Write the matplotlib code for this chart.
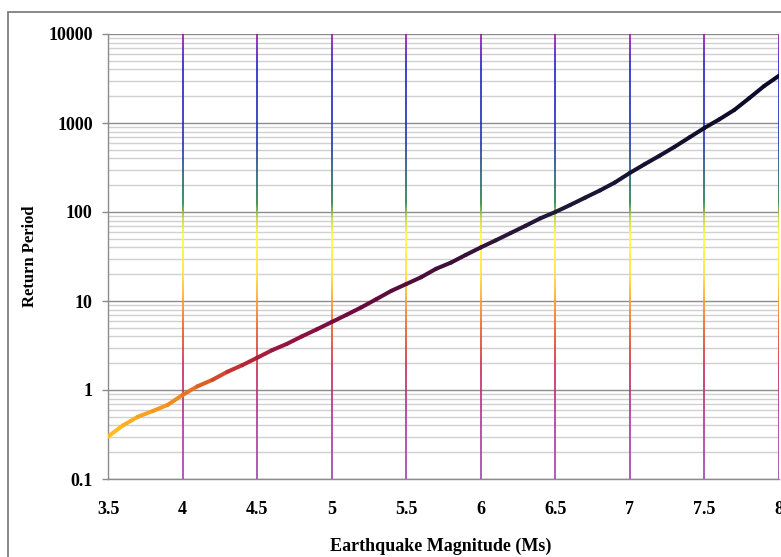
import numpy as np
import matplotlib
matplotlib.use('Agg')
import matplotlib.pyplot as plt
from matplotlib.collections import LineCollection
from matplotlib.colors import LinearSegmentedColormap
from matplotlib.patches import Rectangle
from matplotlib.ticker import FixedLocator, NullFormatter

# return period (years) vs surface-wave magnitude
magnitude = [3.5, 3.6, 3.7, 3.8, 3.9, 4.0, 4.1, 4.2, 4.3, 4.4,
             4.5, 4.6, 4.7, 4.8, 4.9, 5.0, 5.1, 5.2, 5.3, 5.4,
             5.5, 5.6, 5.7, 5.8, 5.9, 6.0, 6.1, 6.2, 6.3, 6.4,
             6.5, 6.6, 6.7, 6.8, 6.9, 7.0, 7.1, 7.2, 7.3, 7.4,
             7.5, 7.6, 7.7, 7.8, 7.9, 8.0]
return_period = [0.3, 0.4, 0.5, 0.58, 0.68, 0.88, 1.1, 1.3, 1.6, 1.9,
                 2.3, 2.8, 3.3, 4.0, 4.8, 5.8, 7.0, 8.5, 10.5, 13,
                 15.5, 18.5, 23, 27, 33, 40, 48, 58, 70, 85,
                 100, 120, 145, 175, 215, 275, 345, 430, 540, 690,
                 880, 1100, 1400, 1900, 2600, 3400]

x_ticks = [3.5, 4, 4.5, 5, 5.5, 6, 6.5, 7, 7.5, 8]
x_ticklabels = ['3.5', '4', '4.5', '5', '5.5', '6', '6.5', '7', '7.5', '8']
y_ticks = [0.1, 1, 10, 100, 1000, 10000]
y_ticklabels = ['0.1', '1', '10', '100', '1000', '10000']

serif = ['Liberation Serif', 'DejaVu Serif']

fig = plt.figure(figsize=(7.81, 5.57), dpi=100)
ax = fig.add_axes([108 / 781, 78 / 557, 671 / 781, 445 / 557])

# chart frame
fig.patches.append(Rectangle((8 / 781, -0.1), 1.2, (557 - 12) / 557 + 0.1,
                             transform=fig.transFigure, fill=False,
                             edgecolor='#7f7f7f', linewidth=1.3, zorder=0))

ax.set_yscale('log')
ax.set_xlim(3.5, 8)
ax.set_ylim(0.1, 10000)

# horizontal grid: decades darker, 2..9 lighter
minor = [m * 10.0 ** e for e in range(-1, 4) for m in range(2, 10)]
ax.yaxis.set_minor_locator(FixedLocator(minor))
ax.yaxis.set_minor_formatter(NullFormatter())
for v in minor:
    ax.axhline(v, color='#d0d0d0', linewidth=1.0, zorder=1)
for v in y_ticks:
    ax.axhline(v, color='#8c8c8c', linewidth=1.0, zorder=1)

# vertical grid with a vertical colour gradient
grid_cmap = LinearSegmentedColormap.from_list('vgrid', [
    (0.00, '#a040b0'),
    (0.15, '#b03090'),
    (0.25, '#c82850'),
    (0.33, '#e85020'),
    (0.40, '#ff9a20'),
    (0.46, '#ffe030'),
    (0.55, '#ffff30'),
    (0.59, '#c0d030'),
    (0.62, '#208040'),
    (0.68, '#206070'),
    (0.76, '#2030b0'),
    (0.93, '#2020c8'),
    (1.00, '#a010b0'),
])
ys = np.linspace(0, 1, 200)
for xv in x_ticks[1:]:
    pts = np.column_stack([np.full_like(ys, xv), ys])
    segs = np.stack([pts[:-1], pts[1:]], axis=1)
    lc = LineCollection(segs, colors=grid_cmap((ys[:-1] + ys[1:]) / 2),
                        linewidth=1.2, transform=ax.get_xaxis_transform(),
                        zorder=2)
    ax.add_collection(lc)

# curve coloured from orange at low magnitude to dark navy at high
curve_cmap = LinearSegmentedColormap.from_list('curve', [
    (0.00, '#ffc020'),
    (0.10, '#f08a20'),
    (0.18, '#c83a30'),
    (0.24, '#a01840'),
    (0.36, '#700a40'),
    (0.50, '#401038'),
    (0.65, '#201838'),
    (1.00, '#0a0a28'),
])
mx = np.array(magnitude)
rp = np.array(return_period)
pts = np.column_stack([mx, rp])
segs = np.stack([pts[:-1], pts[1:]], axis=1)
mid = ((mx[:-1] + mx[1:]) / 2 - 3.5) / 4.5
curve = LineCollection(segs, colors=curve_cmap(mid), linewidth=2.9,
                       capstyle='round', joinstyle='round', zorder=4)
ax.add_collection(curve)

for s in ['top', 'right']:
    ax.spines[s].set_visible(False)
for s in ['left', 'bottom']:
    ax.spines[s].set_color('#8c8c8c')
    ax.spines[s].set_linewidth(1.0)
    ax.spines[s].set_zorder(3)

ax.set_xticks(x_ticks)
ax.set_xticklabels(x_ticklabels, fontfamily=serif, fontsize=13,
                   fontweight='bold')
ax.set_yticks(y_ticks)
ax.set_yticklabels(y_ticklabels, fontfamily=serif, fontsize=13,
                   fontweight='bold')
ax.tick_params(axis='x', length=0, pad=16)
ax.tick_params(axis='y', which='major', length=4, color='#8c8c8c',
               width=1.0, pad=7)
ax.tick_params(axis='y', which='minor', length=0)

ax.set_xlabel('Earthquake Magnitude (Ms)', fontfamily=serif, fontsize=13,
              fontweight='bold')
ax.set_ylabel('Return Period', fontfamily=serif, fontsize=12,
              fontweight='bold')
ax.xaxis.set_label_coords(0.496, -0.132)
ax.yaxis.set_label_coords(-0.105, 0.5)

fig.savefig('out.png', dpi=100)
